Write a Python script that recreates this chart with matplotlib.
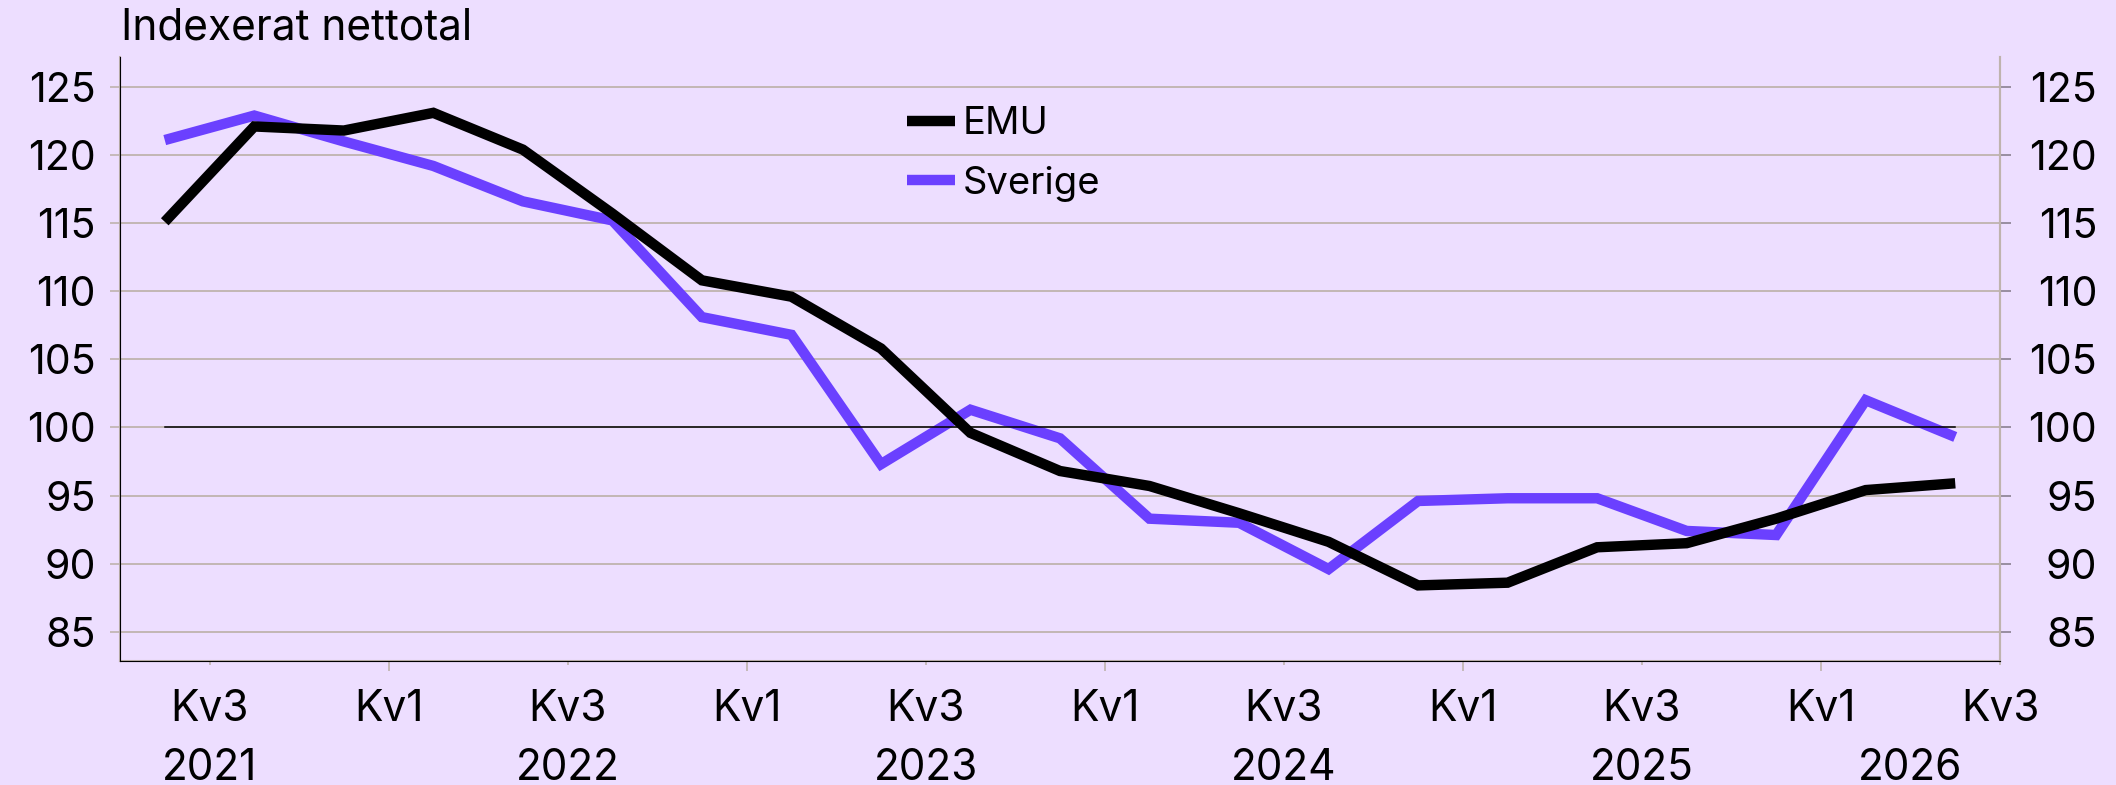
import matplotlib

matplotlib.use("Agg")
import matplotlib.pyplot as plt  # noqa: E402
import matplotlib.transforms as mtransforms  # noqa: E402

# Quarterly series, Kv3 2021 .. Kv3 2026
EMU = [115.1, 122.1, 121.8, 123.1, 120.4, 115.7, 110.8, 109.6, 105.8, 99.6,
       96.8, 95.7, 93.7, 91.6, 88.4, 88.6, 91.2, 91.5, 93.3, 95.4, 95.9]
SVERIGE = [121.1, 122.9, 121.0, 119.2, 116.6, 115.2, 108.1, 106.8, 97.3, 101.3,
           99.2, 93.3, 93.0, 89.6, 94.6, 94.8, 94.8, 92.4, 92.1, 102.0, 99.3]
BASELINE = [100] * 21

KV_LABELS = ["Kv3", "Kv1", "Kv3", "Kv1", "Kv3", "Kv1",
             "Kv3", "Kv1", "Kv3", "Kv1", "Kv3"]
YEAR_LABELS = ["2021", "2022", "2023", "2024", "2025", "2026"]
YEAR_POS = [0.5, 4.5, 8.5, 12.5, 16.5, 19.5]
Y_TICKS = [85, 90, 95, 100, 105, 110, 115, 120, 125]

BG = "#EDDEFF"
PURPLE = "#6B40FF"
GRID = "#BFB3AE"
FONT = "Inter"

plt.rcParams["font.family"] = [FONT, "DejaVu Sans"]

W, H = 2116, 785
fig = plt.figure(figsize=(W / 100, H / 100), dpi=100, facecolor=BG)
ax = fig.add_axes([120 / W, 1 - 661 / H, 1880 / W, 604 / H], facecolor=BG)

x = list(range(len(EMU)))
ax.plot(x, EMU, color="black", lw=7.5, solid_joinstyle="miter",
        solid_capstyle="butt", label="EMU", zorder=4)
ax.plot(x, SVERIGE, color=PURPLE, lw=7.5, solid_joinstyle="miter",
        solid_capstyle="butt", label="Sverige", zorder=3)
ax.plot(x, BASELINE, color="black", lw=1.1, zorder=5)

ax.set_xlim(-0.5, 20.5)
ax.set_ylim(82.85, 127.2)
ax.set_yticks(Y_TICKS)
ax.grid(axis="y", color=GRID, lw=1.3, zorder=1)
ax.set_axisbelow(True)

for side in ["left", "bottom", "right"]:
    ax.spines[side].set_color(GRID)
    ax.spines[side].set_linewidth(1.5)
ax.spines["top"].set_visible(False)

ax.tick_params(axis="y", length=7.5, width=1.2, color=GRID,
               labelsize=29.5, pad=10)

ax2 = ax.twinx()
ax2.set_ylim(ax.get_ylim())
ax2.set_yticks(Y_TICKS)
ax2.spines["top"].set_visible(False)
ax2.spines["right"].set_color(GRID)
ax2.spines["right"].set_linewidth(1.5)
ax2.tick_params(axis="y", length=8, width=1.2, color="#8a8090",
                labelsize=29.5, pad=62)
for lbl in ax2.get_yticklabels():
    lbl.set_horizontalalignment("right")

# x axis: long ticks at Kv1, short ticks at Kv3
kv_pos = [0.5 + 2 * i for i in range(len(KV_LABELS))]
ax.set_xticks(kv_pos[1::2])
ax.set_xticklabels(KV_LABELS[1::2])
ax.set_xticks(kv_pos[0::2], minor=True)
ax.set_xticklabels(KV_LABELS[0::2], minor=True)
ax.tick_params(axis="x", which="major", length=7.5, width=1.2, color=GRID,
               labelsize=30.5, pad=13)
ax.tick_params(axis="x", which="minor", length=3, width=1.2, color=GRID,
               labelsize=30.5, pad=17.5)

trans = mtransforms.blended_transform_factory(ax.transData, fig.transFigure)
for pos, year in zip(YEAR_POS, YEAR_LABELS):
    ax.text(pos, 1 - 780 / H, year, transform=trans, ha="center",
            va="baseline", fontsize=30.5)

fig.text(121 / W, 1 - 39 / H, "Indexerat nettotal", ha="left",
         va="baseline", fontsize=30.5)

ax.legend(loc="upper left", bbox_to_anchor=(907 / W, 1 - 106 / H),
          bbox_transform=fig.transFigure, frameon=False, fontsize=27.5,
          borderpad=0, borderaxespad=0, handlelength=1.26,
          handletextpad=0.2, labelspacing=0.62)

fig.savefig("out.png", dpi=100, facecolor=BG)
